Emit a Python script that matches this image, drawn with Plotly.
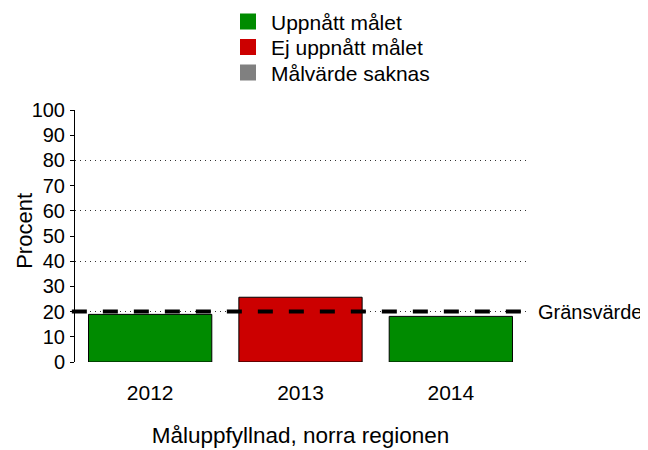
import plotly.graph_objects as go

years = ["2012", "2013", "2014"]
values = [18.9, 25.7, 18.1]
status = ["Uppnått målet", "Ej uppnått målet", "Uppnått målet"]
legend_labels = ["Uppnått målet", "Ej uppnått målet", "Målvärde saknas"]
legend_colors = ["#008B00", "#CC0000", "#808080"]
threshold = 20
threshold_label = "Gränsvärde"
y_ticks = [0, 10, 20, 30, 40, 50, 60, 70, 80, 90, 100]
grid_ticks = [0, 20, 40, 60, 80, 100]

color_map = dict(zip(legend_labels, legend_colors))
FONT = "Liberation Sans, Arial, sans-serif"

fig = go.Figure()
fig.add_trace(go.Bar(
    x=years, y=values,
    marker=dict(color=[color_map[s] for s in status], line=dict(color="black", width=1)),
    width=0.82, showlegend=False, hoverinfo="skip",
))
legend_names = ["legend", "legend2", "legend3"]
for lab, col, lg in zip(legend_labels, legend_colors, legend_names):
    fig.add_trace(go.Scatter(
        x=[None], y=[None], mode="markers", name=lab, legend=lg,
        marker=dict(symbol="square", size=16, color=col),
    ))
# invisible trace to activate secondary axis for gridlines
fig.add_trace(go.Scatter(x=[None], y=[None], yaxis="y2", showlegend=False, hoverinfo="skip"))

fig.add_shape(type="line", xref="paper", x0=-0.007, x1=1.007, yref="y", y0=threshold, y1=threshold,
              line=dict(color="black", width=4, dash="15px,16px"), layer="above")
fig.add_annotation(text=threshold_label, xref="paper", x=1, xanchor="left", xshift=10,
                   yref="y", y=threshold, yanchor="middle", showarrow=False,
                   font=dict(family=FONT, size=20, color="black"))
fig.add_annotation(text="Procent", textangle=-90, xref="paper", yref="paper",
                   x=-0.1124, y=0.5218, xanchor="center", yanchor="middle", showarrow=False,
                   font=dict(family=FONT, size=22, color="black"))

legend_common = dict(x=(225 - 75) / 451, xanchor="left", yanchor="top",
                     font=dict(size=21), bgcolor="rgba(0,0,0,0)", itemwidth=36)

# page body has an 8px margin, so the figure is 8px smaller than the window
fig.update_layout(
    width=640, height=442,
    margin=dict(l=67, r=122, t=102, b=88, autoexpand=False),
    plot_bgcolor="white", paper_bgcolor="white",
    font=dict(family=FONT, size=20, color="black"),
    xaxis=dict(
        type="category", categoryorder="array", categoryarray=years,
        range=[-0.5, 2.5], showgrid=False, showline=False, zeroline=False,
        ticks="", ticklabelstandoff=16,
        title=dict(text="Måluppfyllnad, norra regionen", standoff=24, font=dict(size=22.5)),
        tickfont=dict(size=21),
    ),
    yaxis=dict(
        range=[0, 100], tickvals=y_ticks, showgrid=False, zeroline=False,
        showline=True, linecolor="black", linewidth=1,
        ticks="outside", ticklen=4, tickcolor="black", ticklabelstandoff=1,
        tickfont=dict(size=20),
    ),
    yaxis2=dict(
        overlaying="y", range=[0, 100], tickvals=grid_ticks, showgrid=True,
        gridcolor="#333333", griddash="1px,4px", gridwidth=1, showticklabels=False,
        zeroline=False, showline=False, ticks="",
    ),
    legend=dict(y=1.4314, **legend_common),
    legend2=dict(y=1.3302, **legend_common),
    legend3=dict(y=1.2290, **legend_common),
)

fig.write_html("out.html")
